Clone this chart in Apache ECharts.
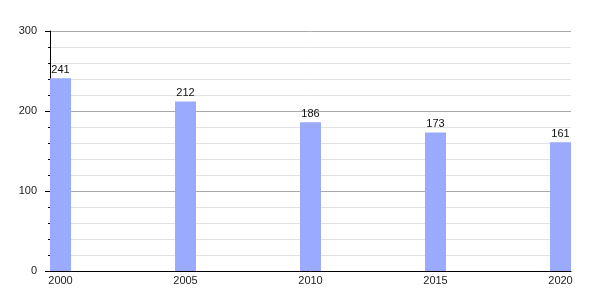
<!DOCTYPE html>
<html><head><meta charset="utf-8">
<script src="https://cdn.jsdelivr.net/npm/echarts@6/dist/echarts.min.js"></script>
<style>html,body{margin:0;padding:0;background:#fff}#c{width:600px;height:300px}</style>
</head><body><div id="c"></div>
<script>
const years = [2000, 2005, 2010, 2015, 2020];
const values = [241, 212, 186, 173, 161];
const yTicks = [0, 100, 200, 300];

const chart = echarts.init(document.getElementById('c'), null, {renderer: 'canvas'});
chart.setOption({
  animation: false,
  grid: {left: 50, right: 29, top: 31, bottom: 29, containLabel: false},
  xAxis: {
    type: 'value',
    min: 1999.58, max: 2020.42,
    axisLine: {show: true, onZero: false, lineStyle: {color: '#000', width: 1}},
    axisTick: {show: false},
    axisLabel: {
      customValues: years,
      formatter: v => String(Math.round(v)),
      color: '#222', fontFamily: 'Liberation Sans', fontSize: 11, margin: 4
    },
    splitLine: {show: false}
  },
  yAxis: {
    type: 'value',
    min: yTicks[0], max: yTicks[yTicks.length - 1], interval: 100,
    axisLine: {show: true, lineStyle: {color: '#000', width: 1}},
    axisTick: {show: true, length: 5, lineStyle: {color: '#000'}},
    minorTick: {show: true, splitNumber: 5, length: 2, lineStyle: {color: '#000'}},
    axisLabel: {color: '#222', fontFamily: 'Liberation Sans', fontSize: 11, margin: 13},
    splitLine: {show: true, lineStyle: {color: '#a8a8a8', width: 1}},
    minorSplitLine: {show: true, lineStyle: {color: '#e2e2e2', width: 1}}
  },
  series: [{
    type: 'bar',
    data: years.map((y, i) => [y, values[i]]),
    barWidth: 21,
    itemStyle: {color: '#99aaff'},
    label: {show: true, position: 'top', distance: 3, color: '#111', fontFamily: 'Liberation Sans', fontSize: 11}
  }]
});
</script></body></html>
